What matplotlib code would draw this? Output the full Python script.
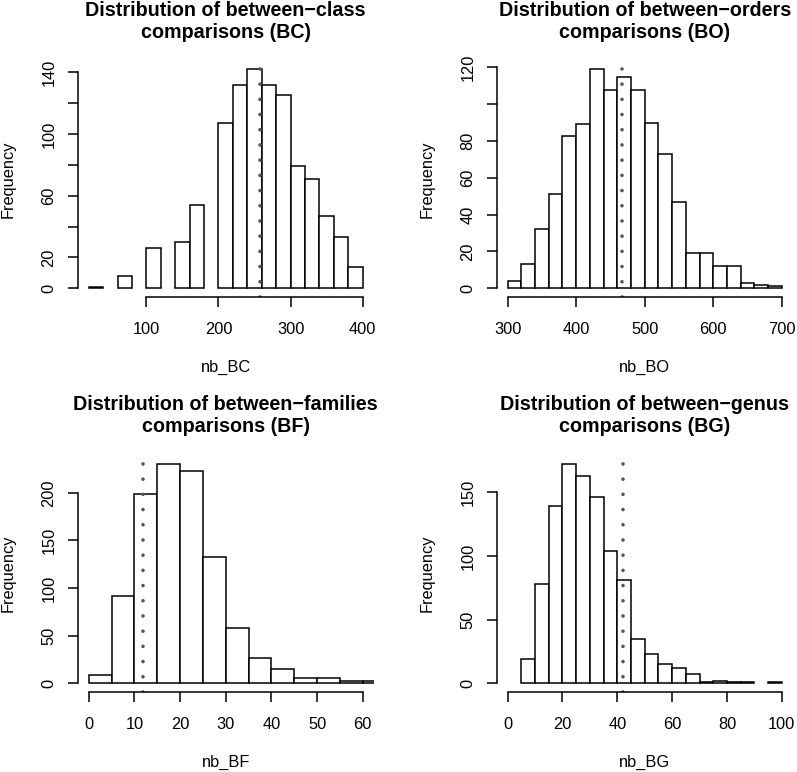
import numpy as np
import matplotlib
matplotlib.use("Agg")
import matplotlib.pyplot as plt

plt.rcParams['font.family'] = ['Liberation Sans', 'DejaVu Sans']

# histogram data (bin width, first edge, counts)
bc_start, bc_width = 20, 20
bc_counts = [1, 0, 8, 0, 26, 0, 30, 54, 0, 107, 132, 142, 132, 125, 79, 71, 47, 33, 14]

bo_start, bo_width = 300, 20
bo_counts = [4, 13, 32, 51, 83, 89, 119, 108, 115, 108, 90, 73, 47, 19, 19, 12, 12, 3, 2, 1]

bf_start, bf_width = 0, 5
bf_counts = [9, 92, 199, 230, 223, 133, 58, 26, 15, 6, 5, 2, 2]

bg_start, bg_width = 0, 5
bg_counts = [0, 19, 78, 139, 172, 163, 146, 104, 81, 35, 23, 15, 12, 7, 1, 2, 1, 1, 0, 1]

# observed values (dotted lines)
bc_obs = 257
bo_obs = 467
bf_obs = 12
bg_obs = 42

titles = ["Distribution of between\u2212class", "Distribution of between\u2212orders",
          "Distribution of between\u2212families", "Distribution of between\u2212genus"]
subtitles = ["comparisons (BC)", "comparisons (BO)", "comparisons (BF)", "comparisons (BG)"]
xlabels = ["nb_BC", "nb_BO", "nb_BF", "nb_BG"]
xranges = [(20, 400), (300, 700), (0, 60), (0, 100)]
xticks = [[100, 200, 300, 400], [300, 400, 500, 600, 700],
          [0, 10, 20, 30, 40, 50, 60], [0, 20, 40, 60, 80, 100]]
yticks = [[0, 20, 40, 60, 80, 100, 120, 140], [0, 20, 40, 60, 80, 100, 120],
          [0, 50, 100, 150, 200], [0, 50, 100, 150]]
# labels R dropped because they would overlap
ylabels_shown = [[0, 20, 60, 100, 140], [0, 20, 40, 60, 80, 120],
                 [0, 50, 100, 150, 200], [0, 50, 100, 150]]

panels = [(bc_start, bc_width, bc_counts, bc_obs),
          (bo_start, bo_width, bo_counts, bo_obs),
          (bf_start, bf_width, bf_counts, bf_obs),
          (bg_start, bg_width, bg_counts, bg_obs)]

W, H = 797, 772
fig = plt.figure(figsize=(W / 100, H / 100), dpi=100)

# plot regions in pixels: left, top (width/height shared)
regions = [(77.7, 60.5), (496.7, 60.5), (77.7, 455.5), (496.7, 455.5)]
pw, ph = 296.0, 236.5

tick_fs = 11.8
title_fs = 14.2

for i, (start, width, counts, obs) in enumerate(panels):
    lx, ty = regions[i]
    ax = fig.add_axes([lx / W, 1 - (ty + ph) / H, pw / W, ph / H])

    counts = np.array(counts)
    edges = start + width * np.arange(len(counts))
    keep = counts > 0
    ax.bar(edges[keep], counts[keep], width=width, align='edge',
           facecolor='white', edgecolor='black', linewidth=1.1)

    ax.axvline(obs, color='#555555', linewidth=2.6,
               linestyle=(0, (0.01, 4.2)), dash_capstyle='round')

    x0, x1 = xranges[i]
    dx = (x1 - x0) * 0.04
    ax.set_xlim(x0 - dx, x1 + dx)
    ymax = counts.max()
    ax.set_ylim(-0.04 * ymax, ymax * 1.04)

    ax.spines['top'].set_visible(False)
    ax.spines['right'].set_visible(False)
    ax.spines['left'].set_bounds(yticks[i][0], yticks[i][-1])
    ax.spines['bottom'].set_bounds(xticks[i][0], xticks[i][-1])
    ax.spines['left'].set_linewidth(1.1)
    ax.spines['bottom'].set_linewidth(1.1)

    ax.set_xticks(xticks[i])
    ax.set_xticklabels([str(v) for v in xticks[i]])
    ax.set_yticks(yticks[i])
    ax.set_yticklabels([str(v) if v in ylabels_shown[i] else "" for v in yticks[i]],
                       rotation=90, va='center')
    ax.tick_params(axis='both', length=7.2, width=1.1, labelsize=tick_fs)
    ax.tick_params(axis='x', pad=11)
    ax.tick_params(axis='y', pad=8)

    ax.text(0.5, 1 + 50.5 / ph, titles[i], transform=ax.transAxes,
            ha='center', va='center', fontsize=title_fs, fontweight='bold')
    ax.text(0.5, 1 + 28.5 / ph, subtitles[i], transform=ax.transAxes,
            ha='center', va='center', fontsize=title_fs, fontweight='bold')
    ax.text(0.5, -70 / ph, xlabels[i], transform=ax.transAxes,
            ha='center', va='center', fontsize=tick_fs)
    ax.text(-70 / pw, 0.5, "Frequency", transform=ax.transAxes,
            ha='center', va='center', rotation=90, fontsize=tick_fs)

fig.savefig("out.png", dpi=100)
